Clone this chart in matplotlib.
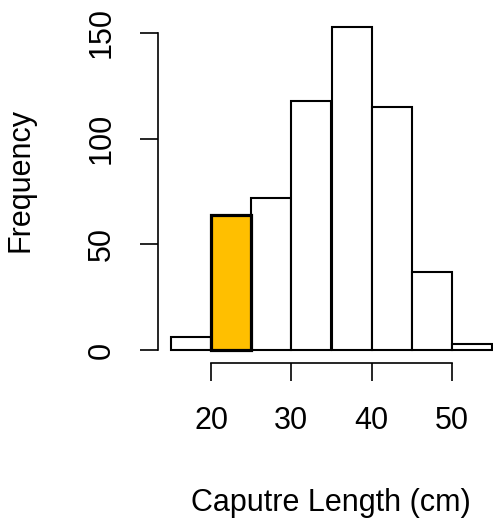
import matplotlib
matplotlib.use("Agg")
import matplotlib.pyplot as plt

# Capture length histogram (5 cm bins)
bin_edges = [15, 20, 25, 30, 35, 40, 45, 50, 55]
counts = [6, 64, 72, 118, 153, 115, 37, 3]
highlight_bin = 1  # 20-25 cm bin
x_ticks = [20, 30, 40, 50]
y_ticks = [0, 50, 100, 150]

plt.rcParams["font.family"] = ["Liberation Sans", "DejaVu Sans"]

W, H = 493, 523
fig = plt.figure(figsize=(W / 100, H / 100), dpi=100)
left_px, right_px, top_px, bottom_px = 158, 505, 13.7, 363
ax = fig.add_axes([left_px / W, 1 - bottom_px / H,
                   (right_px - left_px) / W, (bottom_px - top_px) / H])

ymax = max(counts)
ax.set_xlim(15 - 0.04 * 40, 55 + 0.04 * 40)
ax.set_ylim(-0.04 * ymax, ymax * 1.04)

widths = [bin_edges[i + 1] - bin_edges[i] for i in range(len(counts))]
colors = ["white"] * len(counts)
lws = [1.5] * len(counts)
colors[highlight_bin] = "#FFBF00"
lws[highlight_bin] = 2.3
order = [i for i in range(len(counts)) if i != highlight_bin] + [highlight_bin]
for i in order:
    ax.bar(bin_edges[i], counts[i], width=widths[i], align="edge",
           color=colors[i], edgecolor="black", linewidth=lws[i], zorder=2 + (i == highlight_bin))

for s in ["top", "right"]:
    ax.spines[s].set_visible(False)
ax.spines["left"].set_bounds(0, 150)
ax.spines["bottom"].set_bounds(20, 50)
for s in ["left", "bottom"]:
    ax.spines[s].set_linewidth(1.2)

ax.set_xticks(x_ticks)
ax.set_yticks(y_ticks)
ax.tick_params(axis="both", length=13, width=1.2, labelsize=22, colors="black")
ax.tick_params(axis="x", pad=18)
ax.tick_params(axis="y", pad=17)
for lab in ax.get_yticklabels():
    lab.set_rotation(90)
    lab.set_va("center")

fig.text(331 / W, 1 - 503 / H, "Caputre Length (cm)", ha="center", va="center", fontsize=22)
fig.text(21 / W, 1 - 180 / H, "Frequency", ha="center", va="center", rotation=90, fontsize=22)

fig.savefig("out.png", dpi=100)
